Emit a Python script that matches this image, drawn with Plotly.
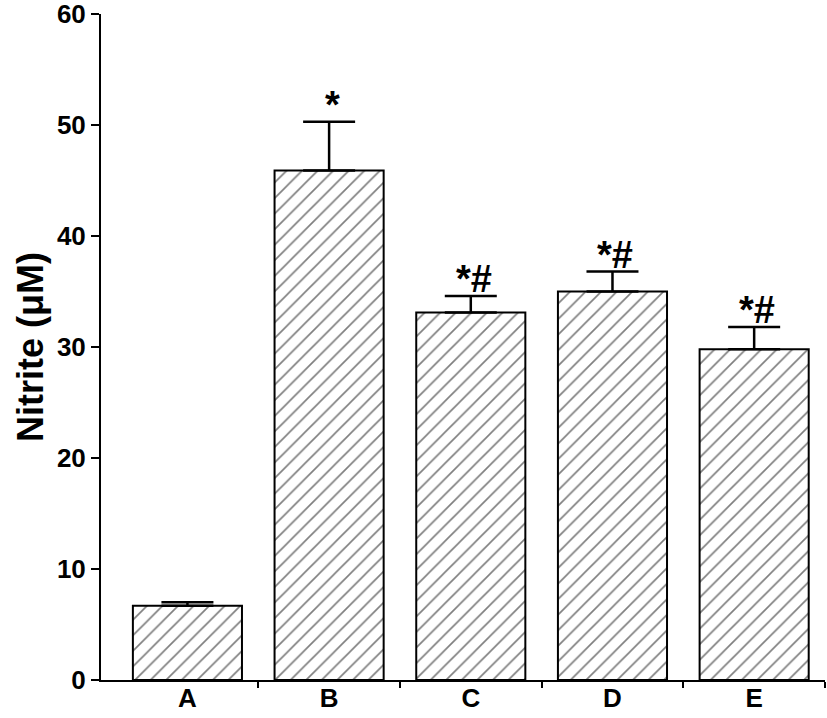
import plotly.graph_objects as go

categories = ["A", "B", "C", "D", "E"]
values = [6.7, 45.9, 33.1, 35.0, 29.8]
errors = [0.3, 4.4, 1.5, 1.8, 2.0]
marks = ["", "*", "*#", "*#", "*#"]
y_ticks = [0, 10, 20, 30, 40, 50, 60]

xpos = list(range(len(categories)))
FONT = "Arial, 'Liberation Sans', Helvetica, sans-serif"

fig = go.Figure()
fig.add_trace(go.Bar(
    x=xpos, y=values, width=0.77,
    marker=dict(color="white", line=dict(color="black", width=2),
                pattern=dict(shape="/", fgcolor="black", bgcolor="white",
                             size=11, solidity=0.15)),
    error_y=dict(type="data", array=errors, arrayminus=[0]*len(errors),
                 symmetric=False, color="black", thickness=2.5, width=26),
    showlegend=False, hoverinfo="skip",
))
# invisible trace carrying the category label axis
fig.add_trace(go.Scatter(x=xpos, y=values, xaxis="x2", mode="markers",
                         marker=dict(opacity=0), showlegend=False, hoverinfo="skip"))

for i, m in enumerate(marks):
    if not m:
        continue
    fig.add_annotation(x=xpos[i], y=values[i] + errors[i], text="<b>" + m + "</b>",
                       showarrow=False, yanchor="bottom", yshift=-6, xshift=3,
                       font=dict(family=FONT, size=38, color="black"))

fig.update_layout(
    width=827, height=718,
    margin=dict(l=101, r=2, t=14, b=38),
    paper_bgcolor="white", plot_bgcolor="white",
    font=dict(family=FONT, color="black"),
    xaxis=dict(range=[-0.61, 4.5], showline=True, linecolor="black", linewidth=2,
               tickvals=[0.5, 1.5, 2.5, 3.5, 4.5], ticks="outside", ticklen=6,
               tickwidth=2, tickcolor="black", showticklabels=False,
               showgrid=False, zeroline=False, automargin=False),
    xaxis2=dict(range=[-0.61, 4.5], overlaying="x", anchor="y", side="bottom",
                tickvals=xpos, ticktext=categories, ticks="", showline=False,
                showgrid=False, zeroline=False, automargin=False,
                tickfont=dict(family=FONT, size=26, color="black", weight="bold")),
    yaxis=dict(range=[0, 60], tickvals=y_ticks, showline=True, linecolor="black",
               linewidth=2, ticks="outside", ticklen=8, tickwidth=2,
               tickcolor="black", showgrid=False, zeroline=False,
               ticklabeloverflow="allow", automargin=False,
               tickfont=dict(family=FONT, size=26, color="black", weight="bold"),
               title=dict(text="Nitrite (μM)", standoff=2,
                          font=dict(family=FONT, size=36, color="black", weight="bold"))),
)

fig.write_html("out.html")
